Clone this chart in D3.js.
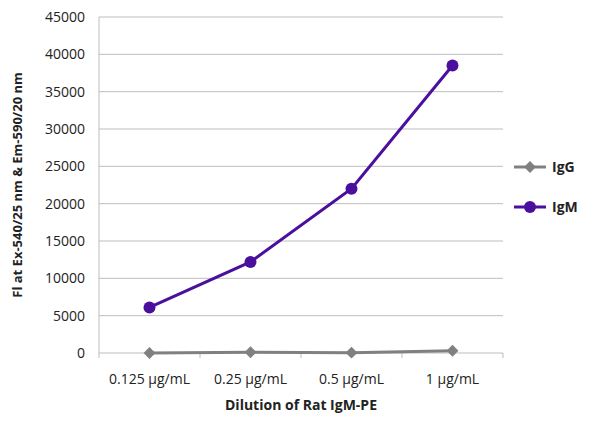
<!DOCTYPE html>
<html><head><meta charset="utf-8">
<script src="https://cdn.jsdelivr.net/npm/d3@7"></script>
<style>body{margin:0;background:#fff}text{font-family:"Open Sans",sans-serif}</style>
</head><body><div id="chart"></div>
<script>
const categories = ['0.125 µg/mL', '0.25 µg/mL', '0.5 µg/mL', '1 µg/mL'];
const igg = [0, 100, 50, 300];
const igm = [6100, 12200, 22000, 38500];
const yTicks = [0, 5000, 10000, 15000, 20000, 25000, 30000, 35000, 40000, 45000];

const W = 600, H = 427;
const L = 99, R = 503, T = 17, B = 353;

const svg = d3.select('#chart').append('svg').attr('width', W).attr('height', H);

const x = d3.scaleBand().domain(categories).range([L, R]);
const y = d3.scaleLinear().domain([0, 45000]).range([B, T]);

// grid
svg.selectAll('line.grid').data(yTicks).enter().append('line')
    .attr('x1', L).attr('x2', R)
    .attr('y1', d => y(d)).attr('y2', d => y(d))
    .attr('stroke', '#bdbdbd').attr('stroke-width', 1);

// y axis
svg.append('line').attr('x1', L).attr('x2', L).attr('y1', T).attr('y2', B).attr('stroke', '#bdbdbd');
svg.selectAll('text.yt').data(yTicks).enter().append('text')
    .attr('x', L - 14).attr('y', d => y(d) + 5)
    .attr('text-anchor', 'end').attr('font-size', 14).attr('fill', '#222')
    .text(d => d);

// x axis ticks
const edges = categories.map(c => x(c)).concat([R]);
svg.selectAll('line.xt').data(edges).enter().append('line')
    .attr('x1', d => d).attr('x2', d => d).attr('y1', B).attr('y2', B + 5)
    .attr('stroke', '#bdbdbd');
svg.selectAll('text.xl').data(categories).enter().append('text')
    .attr('x', d => x(d) + x.bandwidth() / 2).attr('y', B + 31)
    .attr('text-anchor', 'middle').attr('font-size', 14).attr('fill', '#222')
    .text(d => d);

// titles
svg.append('text').attr('x', (L + R) / 2).attr('y', 410).attr('text-anchor', 'middle')
    .attr('font-size', 14).attr('font-weight', 'bold').attr('fill', '#222').text('Dilution of Rat IgM-PE');
svg.append('text').attr('transform', `translate(22,${(T + B) / 2}) rotate(-90)`).attr('text-anchor', 'middle')
    .attr('font-size', 13).attr('font-weight', 'bold').attr('fill', '#222').text('Fl at Ex-540/25 nm & Em-590/20 nm');

const cx = c => x(c) + x.bandwidth() / 2;
const line = d3.line().x((d, i) => cx(categories[i])).y(d => y(d));

const diamond = d3.symbol().type(d3.symbolDiamond2).size(90);

// IgG
svg.append('path').datum(igg).attr('d', line).attr('fill', 'none').attr('stroke', '#808080').attr('stroke-width', 3);
svg.selectAll('path.gd').data(igg).enter().append('path')
    .attr('d', diamond).attr('transform', (d, i) => `translate(${cx(categories[i])},${y(d)})`).attr('fill', '#808080');

// IgM
svg.append('path').datum(igm).attr('d', line).attr('fill', 'none').attr('stroke', '#4b0f9e').attr('stroke-width', 3);
svg.selectAll('circle.m').data(igm).enter().append('circle')
    .attr('cx', (d, i) => cx(categories[i])).attr('cy', d => y(d)).attr('r', 6).attr('fill', '#4b0f9e');

// legend
const legend = [{name: 'IgG', color: '#808080', y: 167, shape: 'd'}, {name: 'IgM', color: '#4b0f9e', y: 207, shape: 'c'}];
legend.forEach(l => {
    svg.append('line').attr('x1', 514).attr('x2', 546).attr('y1', l.y).attr('y2', l.y).attr('stroke', l.color).attr('stroke-width', 3);
    if (l.shape === 'd') svg.append('path').attr('d', diamond).attr('transform', `translate(530,${l.y})`).attr('fill', l.color);
    else svg.append('circle').attr('cx', 530).attr('cy', l.y).attr('r', 6).attr('fill', l.color);
    svg.append('text').attr('x', 552).attr('y', l.y + 5).attr('font-size', 14).attr('font-weight', 'bold').attr('fill', '#222').text(l.name);
});
</script></body></html>
